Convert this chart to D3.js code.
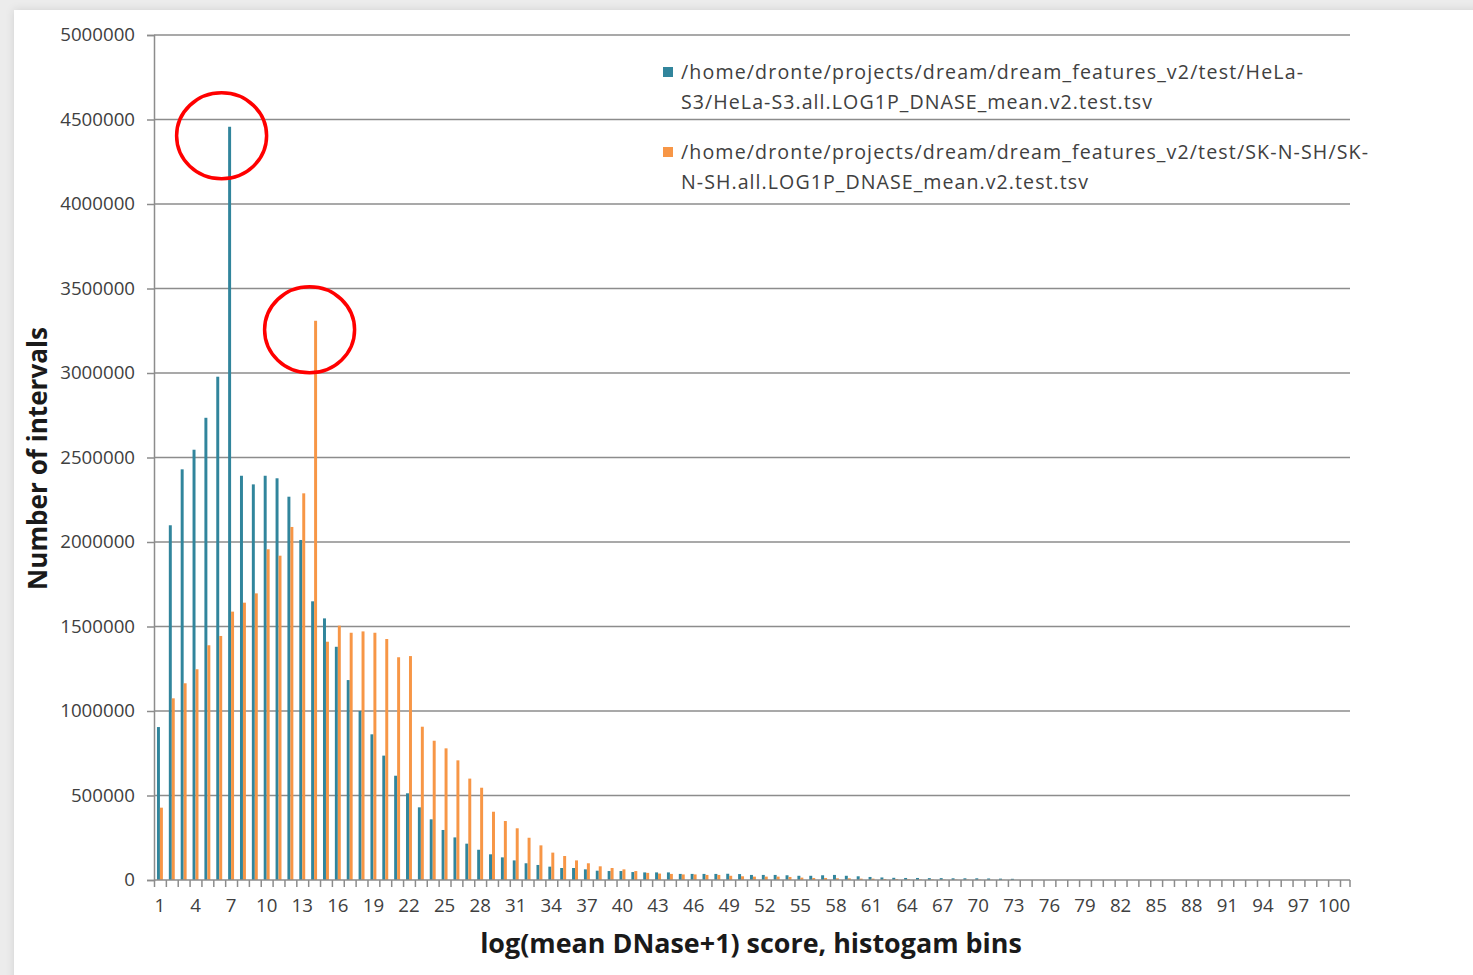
<!DOCTYPE html>
<html>
<head>
<meta charset="utf-8">
<script src="https://cdn.jsdelivr.net/npm/d3@7"></script>
<style>
  html, body { margin: 0; padding: 0; background: #ececec; }
  svg { display: block; }
</style>
</head>
<body>
<svg id="chart" width="1473" height="975"></svg>
<script>
// histogram bins 1..100
const bins = d3.range(1, 101);

// HeLa-S3 counts per bin
const helaValues = [
  905000, 2099000, 2430000, 2546000, 2735000, 2978000, 4457000, 2392000, 2341000, 2392000,
  2377000, 2268000, 2012000, 1649000, 1548000, 1380000, 1183000, 1000000, 862000, 736000,
  617000, 513000, 430000, 359000, 296000, 252000, 215000, 179000, 152000, 134000,
  116000, 99000, 89000, 79000, 71000, 71000, 63000, 55000, 53000, 53000,
  47000, 45000, 45000, 45000, 36000, 36000, 36000, 36000, 37000, 35000,
  30000, 30000, 30000, 28000, 25000, 25000, 28000, 30000, 25000, 22000,
  18000, 15000, 13000, 12000, 12000, 11000, 11000, 10000, 10000, 10000,
  9000, 8000, 7000, 0, 0, 0, 0, 0, 0, 0,
  0, 0, 0, 0, 0, 0, 0, 0, 0, 0,
  0, 0, 0, 0, 0, 0, 0, 0, 0, 0
];

// SK-N-SH counts per bin
const sknshValues = [
  428000, 1075000, 1164000, 1247000, 1389000, 1444000, 1588000, 1641000, 1696000, 1957000,
  1919000, 2089000, 2288000, 3309000, 1410000, 1505000, 1463000, 1471000, 1463000, 1426000,
  1318000, 1325000, 907000, 824000, 779000, 708000, 600000, 546000, 404000, 349000,
  306000, 250000, 205000, 162000, 142000, 116000, 99000, 81000, 71000, 63000,
  53000, 42000, 38000, 36000, 33000, 33000, 30000, 30000, 25000, 22000,
  20000, 20000, 20000, 18000, 14000, 12000, 12000, 10000, 10000, 8000,
  8000, 6000, 5000, 4000, 3000, 3000, 2000, 2000, 2000, 2000,
  1000, 1000, 0, 0, 0, 0, 0, 0, 0, 0,
  0, 0, 0, 0, 0, 0, 0, 0, 0, 0,
  0, 0, 0, 0, 0, 0, 0, 0, 0, 0
];

// legend entries, wrapped as in the picture
const legendLines = [
  ["/home/dronte/projects/dream/dream_features_v2/test/HeLa-", "S3/HeLa-S3.all.LOG1P_DNASE_mean.v2.test.tsv"],
  ["/home/dronte/projects/dream/dream_features_v2/test/SK-N-SH/SK-", "N-SH.all.LOG1P_DNASE_mean.v2.test.tsv"]
];
// measured widths of those lines in the picture
const legendWidths = [[622, 471], [687, 407]];
const seriesColors = ["#31859c", "#f79646"];

const yTicks = d3.range(0, 5000001, 500000);
const xLabelBins = bins.filter((d, i) => i % 3 === 0);

// highlighted peaks (bin, series index)
const highlights = [{ bin: 7, series: 0 }, { bin: 14, series: 1 }];

const yTitle = "Number of intervals";
const xTitle = "log(mean DNase+1) score, histogam bins";

const font = "'Open Sans', 'Noto Sans', sans-serif";
const gridColor = "#8c8c8c";

const svg = d3.select("#chart");

// page frame with soft shadow
svg.append("defs").append("filter").attr("id", "shadow")
  .attr("x", "-5%").attr("y", "-5%").attr("width", "110%").attr("height", "110%")
  .append("feDropShadow")
  .attr("dx", 0).attr("dy", 0).attr("stdDeviation", 4)
  .attr("flood-color", "#000").attr("flood-opacity", 0.12);

svg.append("rect")
  .attr("x", 14).attr("y", 10).attr("width", 1473).attr("height", 980)
  .attr("fill", "#fff")
  .attr("filter", "url(#shadow)");

const plot = { left: 154, right: 1350, binsRight: 1340, top: 35, bottom: 880 };

const x = d3.scaleBand()
  .domain(bins)
  .range([plot.left, plot.binsRight])
  .paddingInner(0.5)
  .paddingOuter(0.25);

const xSub = d3.scaleBand()
  .domain([0, 1])
  .range([0, x.bandwidth()]);

const xEdge = d3.scaleLinear()
  .domain([0, bins.length])
  .range([plot.left, plot.binsRight]);

const y = d3.scaleLinear()
  .domain([0, 5000000])
  .range([plot.bottom, plot.top]);

// y axis
const yAxis = svg.append("g")
  .attr("transform", `translate(${plot.left},0)`)
  .call(d3.axisLeft(y).tickValues(yTicks).tickFormat(d3.format("d"))
    .tickSize(7).tickPadding(12));
yAxis.select(".domain").attr("stroke", gridColor).attr("stroke-width", 1.5);
yAxis.selectAll(".tick line").attr("stroke", gridColor).attr("stroke-width", 1.5);
yAxis.selectAll(".tick text")
  .attr("font-family", font).attr("font-size", 18.7).attr("fill", "#404040");

// gridlines
svg.append("g")
  .selectAll("line")
  .data(yTicks.filter(d => d > 0))
  .join("line")
  .attr("x1", plot.left).attr("x2", plot.right)
  .attr("y1", d => y(d)).attr("y2", d => y(d))
  .attr("stroke", gridColor).attr("stroke-width", 1.5);

// bars
const rows = bins.map((b, i) => ({ bin: b, values: [helaValues[i], sknshValues[i]] }));

svg.append("g")
  .selectAll("g")
  .data(rows)
  .join("g")
  .attr("transform", d => `translate(${x(d.bin)},0)`)
  .selectAll("rect")
  .data(d => d.values.map((v, s) => ({ v, s })))
  .join("rect")
  .attr("x", d => xSub(d.s))
  .attr("width", xSub.bandwidth())
  .attr("y", d => y(d.v))
  .attr("height", d => y(0) - y(d.v))
  .attr("fill", d => seriesColors[d.s]);

// x axis: baseline, ticks at bin edges, labels every third bin
svg.append("line")
  .attr("x1", plot.left).attr("x2", plot.right)
  .attr("y1", plot.bottom).attr("y2", plot.bottom)
  .attr("stroke", gridColor).attr("stroke-width", 1.5);

const xAxis = svg.append("g")
  .attr("transform", `translate(0,${plot.bottom})`)
  .call(d3.axisBottom(xEdge).tickValues(d3.range(0, bins.length + 1)).tickFormat("").tickSize(7));
xAxis.select(".domain").remove();
xAxis.selectAll(".tick line").attr("stroke", gridColor).attr("stroke-width", 1.5);

// closing tick at the right end of the axis
svg.append("line")
  .attr("x1", plot.right).attr("x2", plot.right)
  .attr("y1", plot.bottom).attr("y2", plot.bottom + 7)
  .attr("stroke", gridColor).attr("stroke-width", 1.5);

const xLab = svg.append("g")
  .attr("transform", `translate(0,${plot.bottom})`)
  .call(d3.axisBottom(x).tickValues(xLabelBins).tickSize(0).tickPadding(19));
xLab.select(".domain").remove();
xLab.selectAll(".tick text")
  .attr("font-family", font).attr("font-size", 18.7).attr("fill", "#404040");

// highlight circles around the two peaks
svg.append("g")
  .selectAll("ellipse")
  .data(highlights)
  .join("ellipse")
  .attr("cx", d => x(d.bin) + xSub(d.series) + xSub.bandwidth() / 2 - (d.series === 0 ? 8 : 6))
  .attr("cy", d => y((d.series === 0 ? helaValues : sknshValues)[d.bin - 1]) + 9)
  .attr("rx", 45)
  .attr("ry", 43)
  .attr("fill", "none")
  .attr("stroke", "#ff0000")
  .attr("stroke-width", 3.5);

// fit a text element to a target width by adjusting its font size
const fitText = (sel, width) => {
  const fs = +sel.attr("font-size");
  const w = sel.node().getComputedTextLength();
  sel.attr("font-size", (fs * width / w).toFixed(2));
};

// legend
const legend = svg.append("g").attr("transform", "translate(663,0)");
const legendTops = [79, 159];
legendLines.forEach((lines, s) => {
  const g = legend.append("g").attr("transform", `translate(0,${legendTops[s]})`);
  g.append("rect")
    .attr("x", 0).attr("y", -12).attr("width", 10).attr("height", 10)
    .attr("fill", seriesColors[s]);
  const t = g.append("text")
    .attr("font-family", font).attr("font-size", 19.6).attr("fill", "#404040");
  lines.forEach((ln, k) => {
    t.append("tspan")
      .attr("x", 18).attr("y", k * 30)
      .attr("textLength", legendWidths[s][k])
      .attr("lengthAdjust", "spacing")
      .text(ln);
  });
});

// axis titles
const yt = svg.append("text")
  .attr("transform", `translate(47,${(327 + 590) / 2}) rotate(-90)`)
  .attr("text-anchor", "middle")
  .attr("font-family", font).attr("font-weight", "bold").attr("font-size", 26)
  .attr("fill", "#1a1a1a")
  .text(yTitle);
fitText(yt, 263);

const xt = svg.append("text")
  .attr("x", 751).attr("y", 953)
  .attr("text-anchor", "middle")
  .attr("font-family", font).attr("font-weight", "bold").attr("font-size", 26)
  .attr("fill", "#1a1a1a")
  .text(xTitle);
fitText(xt, 542);
</script>
</body>
</html>
